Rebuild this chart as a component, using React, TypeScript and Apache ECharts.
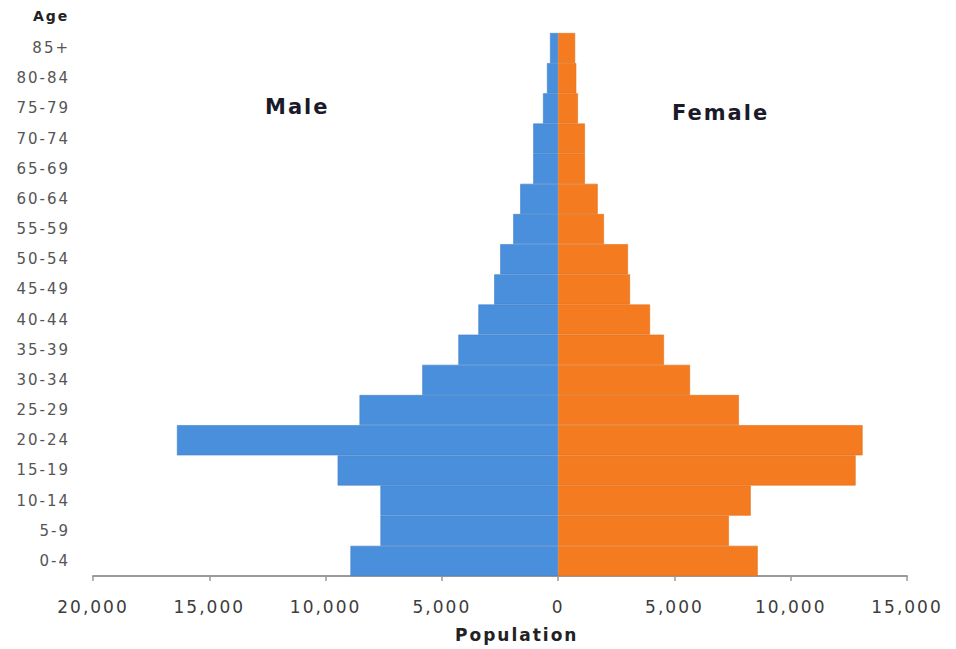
import React, { useEffect, useRef } from "react";
import * as echarts from "echarts";

const ageGroups = ["0-4", "5-9", "10-14", "15-19", "20-24", "25-29", "30-34", "35-39", "40-44", "45-49", "50-54", "55-59", "60-64", "65-69", "70-74", "75-79", "80-84", "85+"];
const maleValues = [8930, 7640, 7640, 9480, 16390, 8540, 5840, 4290, 3430, 2750, 2490, 1930, 1630, 1070, 1070, 650, 480, 350];
const femaleValues = [8580, 7340, 8280, 12790, 13090, 7770, 5670, 4550, 3950, 3090, 3000, 1970, 1700, 1150, 1150, 850, 780, 730];
const xTicks = { min: -20000, max: 15000, interval: 5000 };

export default function App() {
  const ref = useRef<HTMLDivElement>(null);
  useEffect(() => {
    if (!ref.current) return;
    const chart = echarts.init(ref.current, null, { renderer: "svg" });
    const fmt = (v: number) => Math.abs(v).toLocaleString("en-US");
    chart.setOption({
      animation: false,
      backgroundColor: "#ffffff",
      grid: { left: 93, right: 49, top: 33, bottom: 73, containLabel: false },
      xAxis: {
        type: "value",
        min: xTicks.min,
        max: xTicks.max,
        interval: xTicks.interval,
        axisLine: { show: true, lineStyle: { color: "#9a9a9a", width: 2 } },
        axisTick: { show: true, length: 5, lineStyle: { color: "#9a9a9a", width: 1.5 } },
        splitLine: { show: false },
        axisLabel: { formatter: fmt, color: "#3c3c3c", fontSize: 17, margin: 22, fontFamily: "DejaVu Sans" },
      },
      yAxis: {
        type: "category",
        data: ageGroups,
        axisLine: { show: false },
        axisTick: { show: false },
        axisLabel: { color: "#555555", fontSize: 15, margin: 23, fontFamily: "DejaVu Sans" },
      },
      series: [
        {
          name: "Male",
          type: "bar",
          stack: "pop",
          data: maleValues.map((v) => -v),
          barCategoryGap: "0%",
          itemStyle: { color: "#4a8fdc", borderColor: "#3f7fc6", borderWidth: 0.6 },
        },
        {
          name: "Female",
          type: "bar",
          stack: "pop",
          data: femaleValues,
          barCategoryGap: "0%",
          itemStyle: { color: "#f57b20", borderColor: "#e06e18", borderWidth: 0.6 },
        },
      ],
      graphic: [
        { type: "text", left: 33, top: 9, style: { text: "Age", fontSize: 14, fontWeight: "bold", fill: "#222", fontFamily: "DejaVu Sans" } },
        { type: "text", left: 265, top: 96, style: { text: "Male", fontSize: 21, fontWeight: "bold", fill: "#1a1a2a", fontFamily: "DejaVu Sans" } },
        { type: "text", left: 672, top: 102, style: { text: "Female", fontSize: 21, fontWeight: "bold", fill: "#1a1a2a", fontFamily: "DejaVu Sans" } },
        { type: "text", left: 455, top: 626, style: { text: "Population", fontSize: 17, fontWeight: "bold", fill: "#222", fontFamily: "DejaVu Sans" } },
      ],
    });
    return () => chart.dispose();
  }, []);
  return (
    <>
      <style>{".pyramid text { letter-spacing: 2px; }"}</style>
      <div className="pyramid" ref={ref} style={{ width: 956, height: 649, position: "absolute", left: 0, top: 0 }} />
    </>
  );
}
